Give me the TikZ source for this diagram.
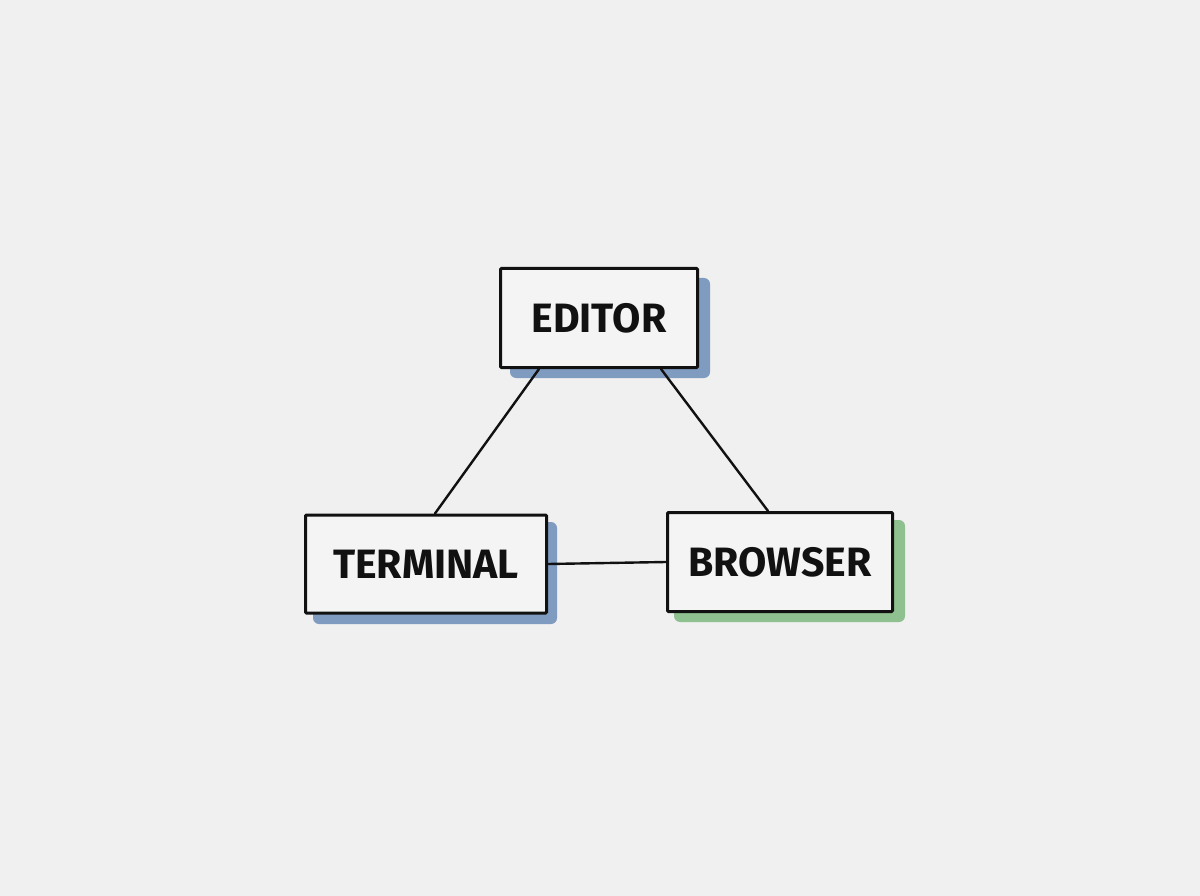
\documentclass[tikz,border=0pt]{standalone}
\usepackage{fontspec}
\usetikzlibrary{calc}
\setmainfont{Fira Sans}
\newfontfamily\boxfont{Fira Sans}[UprightFont=* Bold]
\definecolor{bg}{HTML}{F0F0F0}
\definecolor{boxfill}{HTML}{F4F4F4}
\definecolor{shblue}{HTML}{7F9BC0}
\definecolor{shgreen}{HTML}{8FC090}
\definecolor{ink}{HTML}{111111}
\tikzset{
  sketchbox/.style={draw=ink, line width=3pt, fill=boxfill, inner sep=0pt, rounded corners=1pt,
    font=\boxfont\fontsize{41}{41}\selectfont, text=ink},
  shadowbox/.style={rounded corners=6pt},
  link/.style={draw=ink, line width=2.4pt, line cap=round}
}
\begin{document}
\begin{tikzpicture}[x=1pt,y=-1pt]
\useasboundingbox[fill=bg] (0,0) rectangle (1200,896);
% shadows
\fill[shblue, shadowbox] (510,278) rectangle (710,378);
\fill[shblue, shadowbox] (313,522) rectangle (557,624);
\fill[shgreen, shadowbox] (674,520) rectangle (905,622);
% boxes
\node[sketchbox, minimum width=197pt, minimum height=99pt] (editor) at (599,318) {EDITOR};
\node[sketchbox, minimum width=241pt, minimum height=98pt] (terminal) at (426,564) {TERMINAL};
\node[sketchbox, minimum width=225pt, minimum height=99pt] (browser) at (780,562) {BROWSER};
% connector end points
\coordinate (e1) at ($(editor.south west)+(40,0)$);
\coordinate (e2) at ($(editor.south west)+(162,0)$);
\coordinate (t1) at ($(terminal.north west)+(131,0)$);
\coordinate (b1) at ($(browser.north west)+(102,0)$);
% connectors
\draw[link] (e1) -- (t1);
\draw[link] (e2) -- (b1);
\draw[link] (terminal.east) -- (browser.west);
\end{tikzpicture}
\end{document}
